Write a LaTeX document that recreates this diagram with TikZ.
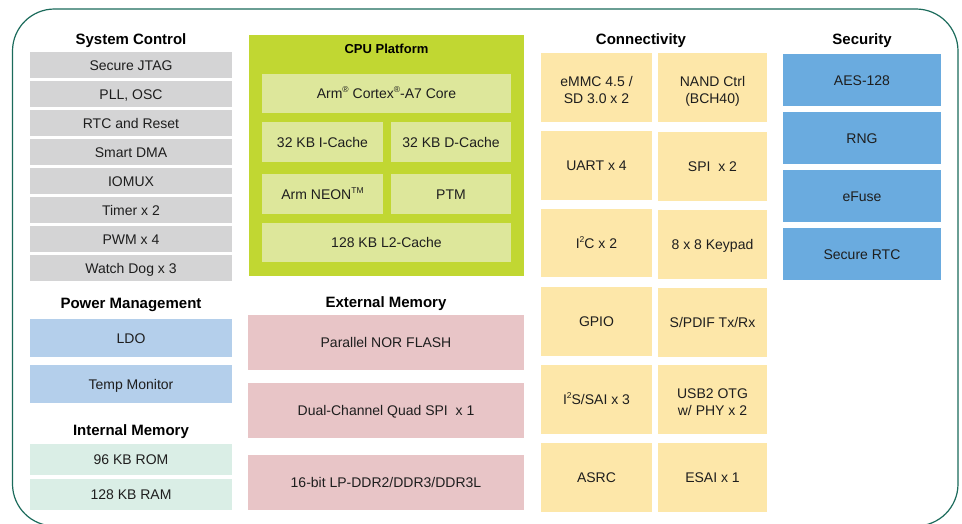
\documentclass[tikz,border=0pt]{standalone}
\usepackage{fontspec}
\setmainfont{Liberation Sans}
\definecolor{frame}{HTML}{1B6B5B}
\definecolor{sysgrey}{HTML}{D4D4D5}
\definecolor{pwrblue}{HTML}{B4CFEB}
\definecolor{memmint}{HTML}{DAEEE6}
\definecolor{cpugreen}{HTML}{C1D732}
\definecolor{cpuinner}{HTML}{DDE79B}
\definecolor{extpink}{HTML}{E8C5C7}
\definecolor{conyellow}{HTML}{FDE7A9}
\definecolor{secblue}{HTML}{6AABDF}
\definecolor{txt}{HTML}{1E1E1E}
\newcommand\blk[7]{%
  \pgfmathsetmacro\blkw{#5-#3}\pgfmathsetmacro\blkh{#6-#4}%
  \pgfmathsetmacro\blkx{(#3+#5)/2}\pgfmathsetmacro\blky{(#4+#6)/2}%
  \node[#1, minimum width=\blkw pt, minimum height=\blkh pt] (#2) at (\blkx,\blky) {#7};}
\newcommand\supr[1]{\raisebox{0.42em}{\fontsize{8.5}{8}\selectfont #1}}
\begin{document}
\begin{tikzpicture}[x=1pt,y=-1pt,
  box/.style={rectangle, inner sep=0pt, outer sep=0pt, draw=none, align=center, text=txt,
    text height=10pt, text depth=0pt, font=\fontsize{14}{17}\selectfont},
  twoline/.style={text height=31pt},
  sysbox/.style={box, fill=sysgrey},
  pwrbox/.style={box, fill=pwrblue},
  membox/.style={box, fill=memmint},
  cpubox/.style={box, fill=cpuinner},
  extbox/.style={box, fill=extpink},
  conbox/.style={box, fill=conyellow},
  secbox/.style={box, fill=secblue},
  title/.style={inner sep=0pt, text=black, text height=11pt, text depth=0pt,
    font=\fontsize{15}{17}\selectfont\bfseries}]
\useasboundingbox (0,0) rectangle (962,523);
\fill[white] (0,0) rectangle (962,523);
\draw[frame, line width=1.2pt, rounded corners=42pt] (12.5,9) rectangle (958,526);

% System Control
\node[title] (tsys) at (131,39) {System Control};
\blk{sysbox}{s1}{30}{52}{232}{78}{Secure JTAG}
\blk{sysbox}{s2}{30}{81}{232}{107}{PLL, OSC}
\blk{sysbox}{s3}{30}{110}{232}{136}{RTC and Reset}
\blk{sysbox}{s4}{30}{139}{232}{165}{Smart DMA}
\blk{sysbox}{s5}{30}{168}{232}{194}{IOMUX}
\blk{sysbox}{s6}{30}{197}{232}{223}{Timer x 2}
\blk{sysbox}{s7}{30}{226}{232}{252}{PWM x 4}
\blk{sysbox}{s8}{30}{255}{232}{281}{Watch Dog x 3}

% Power Management
\node[title] (tpwr) at (131,303) {Power Management};
\blk{pwrbox}{p1}{30}{319}{232}{357}{LDO}
\blk{pwrbox}{p2}{30}{365}{232}{403}{Temp Monitor}

% Internal Memory
\node[title] (tmem) at (131,430) {Internal Memory};
\blk{membox}{m1}{30}{444}{232}{475}{96 KB ROM}
\blk{membox}{m2}{30}{479}{232}{510}{128 KB RAM}

% CPU Platform
\blk{box, fill=cpugreen}{cpu}{249}{35}{524}{276}{}
\node[title, text height=10pt, font=\fontsize{13}{15}\selectfont\bfseries] (tcpu) at (386.5,48) {CPU Platform};
\blk{cpubox}{c1}{262}{74}{511}{113}{Arm\supr{®} Cortex\supr{®}-A7 Core}
\blk{cpubox}{c2}{262}{122}{383}{162}{32 KB I-Cache}
\blk{cpubox}{c3}{391}{122}{511}{162}{32 KB D-Cache}
\blk{cpubox}{c4}{262}{174}{383}{214}{Arm NEON\supr{TM}}
\blk{cpubox}{c5}{391}{174}{511}{214}{PTM}
\blk{cpubox}{c6}{262}{223}{511}{262}{128 KB L2-Cache}

% External Memory
\node[title] (text) at (386,302) {External Memory};
\blk{extbox}{e1}{248}{315}{524}{370}{Parallel NOR FLASH}
\blk{extbox}{e2}{248}{383}{524}{438}{Dual-Channel Quad SPI\ \ x 1}
\blk{extbox}{e3}{248}{455}{524}{510}{16-bit LP-DDR2/DDR3/DDR3L}

% Connectivity
\node[title] (tcon) at (641,39) {Connectivity};
\blk{conbox, twoline}{n1}{541}{53}{652}{122}{eMMC 4.5 /\\SD 3.0 x 2}
\blk{conbox, twoline}{n2}{658}{53}{767}{122}{NAND Ctrl\\(BCH40)}
\blk{conbox}{n3}{541}{131}{652}{200}{UART x 4}
\blk{conbox}{n4}{658}{132}{767}{201}{SPI\ \ x 2}
\blk{conbox}{n5}{541}{209}{652}{277}{I\supr{2}C x 2}
\blk{conbox}{n6}{658}{210}{767}{279}{8 x 8 Keypad}
\blk{conbox}{n7}{541}{287}{652}{356}{GPIO}
\blk{conbox}{n8}{658}{288}{767}{357}{S/PDIF Tx/Rx}
\blk{conbox}{n9}{541}{365}{652}{434}{I\supr{2}S/SAI x 3}
\blk{conbox, twoline}{n10}{658}{365}{767}{434}{USB2 OTG\\w/ PHY x 2}
\blk{conbox}{n11}{541}{443}{652}{512}{ASRC}
\blk{conbox}{n12}{658}{443}{767}{512}{ESAI x 1}

% Security
\node[title] (tsec) at (862,39) {Security};
\blk{secbox}{k1}{783}{54}{941}{106}{AES-128}
\blk{secbox}{k2}{783}{112}{941}{164}{RNG}
\blk{secbox}{k3}{783}{170}{941}{222}{eFuse}
\blk{secbox}{k4}{783}{228}{941}{280}{Secure RTC}
\end{tikzpicture}
\end{document}
